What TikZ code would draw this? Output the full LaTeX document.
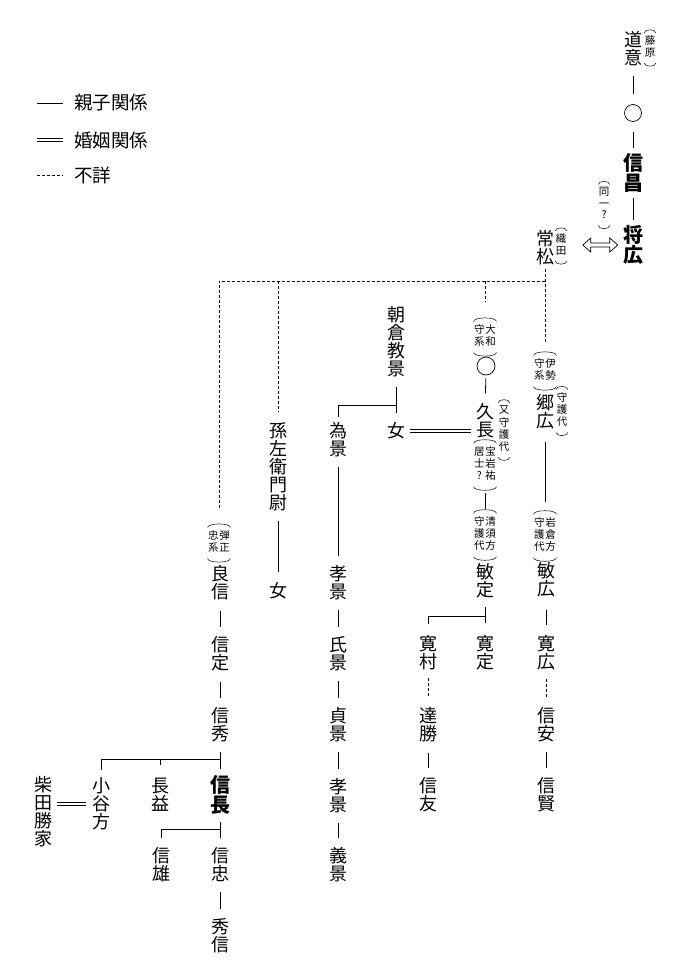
\documentclass[tikz,border=0pt]{standalone}
\usepackage{fontspec}
\setmainfont{Noto Sans CJK JP}
\newcommand\aone[1]{\begin{tabular}{@{}c@{}}#1\end{tabular}}
\newcommand\atwo[1]{\begin{tabular}{@{}c@{\hspace{0.8pt}}c@{}}#1\end{tabular}}
\newcommand\parenz[2][0.9]{\draw[pline] (#2.north west) to[out=90,in=90,looseness=#1] (#2.north east);
  \draw[pline] (#2.south west) to[out=-90,in=-90,looseness=#1] (#2.south east);}
\begin{document}
\begin{tikzpicture}[x=1pt,y=-1pt,
  nm/.style={font=\fontsize{18}{18}\selectfont, align=center, inner sep=0pt},
  bnm/.style={font=\bfseries\fontsize{20}{20}\selectfont, align=center, inner sep=0pt},
  an/.style={font=\fontsize{10.5}{11.5}\selectfont, inner xsep=0.3pt, inner ysep=3pt},
  lg/.style={font=\fontsize{18.5}{19}\selectfont, inner sep=0pt},
  rel/.style={line width=0.8pt, shorten <=10pt, shorten >=10pt},
  dsh/.style={line width=0.7pt, dash pattern=on 3pt off 2pt},
  mar/.style={double, double distance=2.6pt, line width=0.6pt},
  pline/.style={line width=0.5pt},
  circ/.style={circle, draw, line width=0.7pt, minimum size=17pt, inner sep=0pt},
  arr/.style={line width=0.7pt, line join=miter}]
\useasboundingbox[fill=white] (0,0) rectangle (691,969);
% legend
\node[lg, anchor=west] (lg1) at (74,103) {親子関係};
\node[lg, anchor=west] (lg2) at (74,140) {婚姻関係};
\node[lg, anchor=west] (lg3) at (74,175) {不詳};
\draw[line width=0.8pt] ([xshift=-37pt]lg1.west) -- ([xshift=-11pt]lg1.west);
\draw[mar] ([xshift=-37pt]lg2.west) -- ([xshift=-11pt]lg2.west);
\draw[dsh] ([xshift=-37pt]lg3.west) -- ([xshift=-11pt]lg3.west);
% top chain
\node[nm] (dooi) at (633,49) {道\\意};
\node[an] (fuji) at (650,48) {\aone{藤\\原}}; \parenz{fuji}
\node[circ] (c1) at (633,113) {};
\node[bnm] (nobumasa) at (633,173) {信\\昌};
\node[bnm] (masahiro) at (633,245) {将\\広};
\node[an] (doitsu) at (604,205) {\aone{同\\一\\?}}; \parenz{doitsu}
\node[nm] (tsune) at (545,248) {常\\松};
\node[an] (oda) at (561,246) {\aone{織\\田}}; \parenz{oda}
\draw[rel] (dooi) -- (c1);
\draw[rel, shorten >=5pt] (c1) -- (nobumasa);
\draw[rel, shorten <=5pt, shorten >=5pt] (nobumasa) -- (masahiro);
\path (oda.east |- masahiro) ++(16,0) coordinate (al);
\path (masahiro.west) ++(-5,0) coordinate (ar);
\draw[arr] (al) -- ++(8,-7) -- ++(0,5) -- ([shift={(-8,-2)}]ar) -- ++(0,-5) -- (ar)
  -- ++(-8,7) -- ++(0,-5) -- ([shift={(8,2)}]al) -- ++(0,5) -- cycle;
% dashed tree
\coordinate (dj) at (545,281);
\node[an] (ise) at (545,371) {\atwo{守&伊\\系&勢}}; \parenz[0.55]{ise}
\node[an] (yamato) at (485,337) {\atwo{守&大\\系&和}}; \parenz[0.55]{yamato}
\node[nm] (maga) at (278,467) {孫\\左\\衛\\門\\尉};
\node[an] (danjo) at (219,543) {\atwo{忠&弾\\系&正}}; \parenz[0.55]{danjo}
\draw[dsh, shorten <=3pt, shorten >=13pt] (tsune.south) -- (tsune.south |- ise.north);
\draw[dsh, shorten >=18pt] (dj) -| (danjo.north);
\draw[dsh, shorten >=11pt] (dj -| maga.north) -- (maga.north);
\draw[dsh, shorten >=20pt] (dj -| yamato.north) -- (yamato.north);
% Yamato line
\node[circ, minimum size=18pt] (c2) at (486,366) {};
\node[nm] (hisanaga) at (485,421) {久\\長};
\node[an] (mata) at (504,430) {\aone{又\\守\\護\\代}}; \parenz{mata}
\node[an] (hogan) at (485,465) {\atwo{居&宝\\士&岩\\?&祐}}; \parenz[0.55]{hogan}
\node[an] (kiyosu) at (485,535) {\atwo{守&清\\護&須\\代&方}}; \parenz[0.55]{kiyosu}
\node[nm] (toshisada) at (485,581) {敏\\定};
\draw[rel, shorten <=3pt] (c2) -- (hisanaga);
\draw[rel, shorten <=6pt, shorten >=4pt] (hogan) -- (kiyosu);
\coordinate (tj) at (485,616);
\node[nm] (hirosada) at (485,653) {寛\\定};
\node[nm] (hiromura) at (428,653) {寛\\村};
\node[nm] (michikatsu) at (428,725) {達\\勝};
\node[nm] (nobutomo) at (428,795) {信\\友};
\draw[rel, shorten <=8pt, shorten >=12pt] (toshisada) -- (hirosada);
\draw[rel, shorten <=0pt, shorten >=12pt] (tj) -| (hiromura.north);
\draw[dsh, shorten <=8pt, shorten >=11pt] (hiromura) -- (michikatsu);
\draw[rel] (michikatsu) -- (nobutomo);
% Ise line
\node[nm] (norihiro) at (545,412) {郷\\広};
\node[an] (shugo1) at (562,411) {\aone{守\\護\\代}}; \parenz{shugo1}
\node[an] (iwakura) at (545,536) {\atwo{守&岩\\護&倉\\代&方}}; \parenz[0.55]{iwakura}
\node[nm] (toshihiro) at (546,580) {敏\\広};
\node[nm] (hirohiro) at (546,653) {寛\\広};
\node[nm] (nobuyasu) at (546,725) {信\\安};
\node[nm] (nobukata) at (546,795) {信\\賢};
\draw[rel, shorten <=12pt, shorten >=12pt] (norihiro) -- (iwakura);
\draw[rel, shorten <=12pt, shorten >=10pt] (toshihiro) -- (hirohiro);
\draw[dsh, shorten <=8pt, shorten >=11pt] (hirohiro) -- (nobuyasu);
\draw[rel] (nobuyasu) -- (nobukata);
% Asakura
\node[nm] (norikage) at (396,342) {朝\\倉\\教\\景};
\node[nm] (onna1) at (396,431) {女};
\coordinate (aj) at (396,405);
\node[nm] (tamekage) at (338,440) {為\\景};
\draw[rel, shorten >=9pt] (norikage) -- (onna1);
\draw[rel, shorten <=0pt, shorten >=6pt] (aj) -| (tamekage.north);
\draw[mar, shorten <=5pt, shorten >=5pt] (onna1.east) -- (onna1.east -| hisanaga.west);
\node[nm] (takakage1) at (338,583) {孝\\景};
\node[nm] (ujikage) at (338,654) {氏\\景};
\node[nm] (sadakage) at (338,725) {貞\\景};
\node[nm] (takakage2) at (338,796) {孝\\景};
\node[nm] (yoshikage) at (338,865) {義\\景};
\draw[rel] (tamekage) -- (takakage1);
\draw[rel] (takakage1) -- (ujikage);
\draw[rel] (ujikage) -- (sadakage);
\draw[rel] (sadakage) -- (takakage2);
\draw[rel] (takakage2) -- (yoshikage);
% Magozaemon
\node[nm] (onna2) at (278,591) {女};
\draw[rel] (maga) -- (onna2);
% Danjo line
\node[nm] (yoshinobu) at (220,583) {良\\信};
\node[nm] (nobusada) at (220,654) {信\\定};
\node[nm] (nobuhide) at (220,725) {信\\秀};
\node[bnm] (nobunaga) at (220,795) {信\\長};
\node[nm] (nobutada) at (220,865) {信\\忠};
\node[nm] (hidenobu) at (220,936) {秀\\信};
\node[nm] (odani) at (101,804) {小\\谷\\方};
\node[nm] (nagamasu) at (160,795) {長\\益};
\node[nm] (nobukatsu) at (161,865) {信\\雄};
\node[nm] (shibata) at (43,812) {柴\\田\\勝\\家};
\coordinate (nj) at (220,759);
\coordinate (kj) at (220,829);
\draw[rel] (yoshinobu) -- (nobusada);
\draw[rel] (nobusada) -- (nobuhide);
\draw[rel, shorten >=6pt] (nobuhide) -- (nobunaga);
\draw[rel, shorten <=7pt] (nobunaga) -- (nobutada);
\draw[rel] (nobutada) -- (hidenobu);
\draw[rel, shorten <=0pt, shorten >=8pt] (nj) -| (odani.north);
\draw[rel, shorten <=0pt, shorten >=13pt] (nj -| nagamasu.north) -- (nagamasu.north);
\draw[rel, shorten <=0pt, shorten >=10pt] (kj) -| (nobukatsu.north);
\draw[mar, shorten <=5pt, shorten >=6pt] (shibata.east |- odani.west) -- (odani.west);
\end{tikzpicture}
\end{document}
